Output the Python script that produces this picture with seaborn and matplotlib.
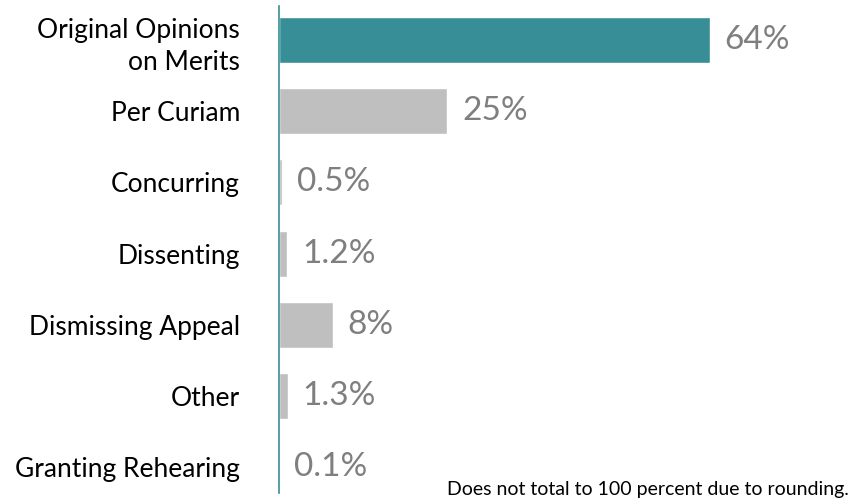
import matplotlib
matplotlib.use("Agg")
import matplotlib.pyplot as plt
import seaborn as sns
import pandas as pd

categories = ["Original Opinions\non Merits", "Per Curiam", "Concurring", "Dissenting",
              "Dismissing Appeal", "Other", "Granting Rehearing"]
shares = [64, 25, 0.5, 1.2, 8, 1.3, 0.1]
value_labels = ["64%", "25%", "0.5%", "1.2%", "8%", "1.3%", "0.1%"]

teal = "#388E96"
grey = "#BFBFBF"

df = pd.DataFrame({"category": categories, "share": shares})
colors = {c: (teal if i == 0 else grey) for i, c in enumerate(categories)}

sns.set_style("white")
plt.rcParams["font.family"] = ["Lato", "DejaVu Sans"]

fig = plt.figure(figsize=(8.51, 5.04), dpi=100)
ax = fig.add_axes([279 / 851, 11 / 504, 1 - 279 / 851, 487 / 504])

sns.barplot(data=df, x="share", y="category", hue="category", palette=colors,
            legend=False, width=0.646, saturation=1, ax=ax, orient="h")

ax.set_xlim(0, 85)
ax.set_ylim(6.365, -0.478)

for i, (v, lab) in enumerate(zip(shares, value_labels)):
    ax.text(v + 2.2, i, lab, va="center", ha="left", fontsize=24, color="#7F7F7F")

for s in ["top", "right", "bottom"]:
    ax.spines[s].set_visible(False)
ax.spines["left"].set_color(teal)
ax.spines["left"].set_linewidth(1.2)
ax.set_xticks([])
ax.set_xlabel("")
ax.set_ylabel("")
ax.tick_params(axis="y", length=0, pad=28, labelsize=19, labelcolor="black")
for t in ax.get_yticklabels():
    t.set_linespacing(1.35)

fig.text(849 / 851, 1 - 490 / 504, "Does not total to 100 percent due to rounding.",
         ha="right", va="center", fontsize=14, color="black")

plt.savefig("out.png", dpi=100)
plt.close()
